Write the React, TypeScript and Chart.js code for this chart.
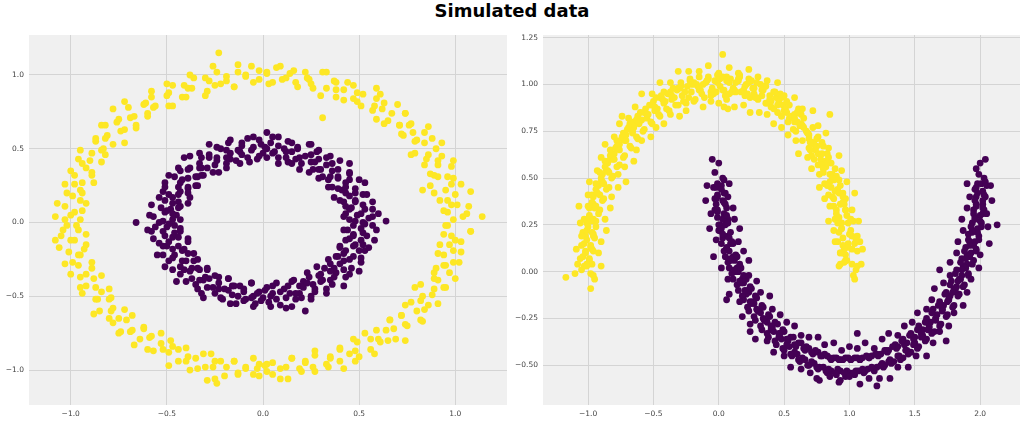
import React, { useEffect, useRef } from "react";
import { Chart, registerables } from "chart.js";

Chart.register(...registerables);

const TITLE = "Simulated data";

const circleXTicks = [-1, -0.5, 0, 0.5, 1];
const circleYTicks = [-1, -0.5, 0, 0.5, 1];
const moonXTicks = [-1, -0.5, 0, 0.5, 1, 1.5, 2];
const moonYTicks = [-0.5, -0.25, 0, 0.25, 0.5, 0.75, 1, 1.25];

const circleXRange = [-1.217, 1.269];
const circleYRange = [-1.237, 1.271];
const moonXRange = [-1.345, 2.305];
const moonYRange = [-0.712, 1.264];

// class 0 (yellow) outer ring of make_circles
const outerCircle: [number, number][] = [
  [1.04,0.04],[0.96,0.07],[1.07,0.11],[0.98,0.12],[0.92,0.15],[1.00,0.19],[0.95,0.22],[1.03,0.26],[0.87,0.25],[0.96,0.31],
  [0.89,0.32],[0.98,0.38],[0.91,0.39],[0.84,0.39],[0.93,0.45],[0.86,0.46],[0.93,0.54],[0.79,0.47],[0.84,0.54],[0.79,0.55],
  [0.84,0.61],[0.78,0.61],[0.72,0.60],[0.77,0.67],[0.71,0.66],[0.74,0.74],[0.65,0.69],[0.67,0.74],[0.59,0.70],[0.63,0.81],
  [0.58,0.79],[0.61,0.87],[0.51,0.79],[0.52,0.87],[0.47,0.84],[0.47,0.93],[0.42,0.90],[0.38,0.85],[0.38,0.95],[0.33,0.91],
  [0.33,1.02],[0.26,0.91],[0.24,0.97],[0.22,1.02],[0.17,0.95],[0.14,1.01],[0.10,0.97],[0.07,1.05],[0.03,0.94],[0.02,1.01],
  [-0.02,0.97],[-0.06,1.06],[-0.09,0.99],[-0.13,1.02],[-0.15,0.92],[-0.19,0.99],[-0.22,0.94],[-0.26,1.06],[-0.28,0.96],[-0.29,0.89],
  [-0.36,0.98],[-0.37,0.91],[-0.41,0.93],[-0.42,0.85],[-0.50,0.94],[-0.50,0.86],[-0.49,0.79],[-0.58,0.85],[-0.57,0.78],[-0.62,0.80],
  [-0.60,0.72],[-0.70,0.78],[-0.69,0.71],[-0.66,0.64],[-0.76,0.68],[-0.74,0.62],[-0.84,0.66],[-0.81,0.59],[-0.78,0.53],[-0.87,0.55],
  [-0.84,0.49],[-0.89,0.47],[-0.84,0.41],[-0.96,0.43],[-0.92,0.37],[-0.89,0.32],[-0.98,0.32],[-0.94,0.27],[-1.03,0.26],[-0.94,0.20],
  [-0.99,0.18],[-0.92,0.13],[-1.03,0.11],[-0.98,0.07],[-1.08,0.04],[-0.95,0.02],
  [-1.02,-0.02],[-0.96,-0.05],[-1.05,-0.09],[-0.98,-0.12],[-0.92,-0.15],[-1.01,-0.20],[-0.95,-0.22],[-1.03,-0.28],[-0.96,-0.29],[-0.89,-0.31],
  [-0.95,-0.37],[-0.88,-0.38],[-0.95,-0.44],[-0.87,-0.44],[-0.80,-0.45],[-0.87,-0.52],[-0.80,-0.52],[-0.85,-0.60],[-0.79,-0.60],[-0.72,-0.59],
  [-0.78,-0.68],[-0.71,-0.66],[-0.75,-0.75],[-0.68,-0.73],[-0.62,-0.71],[-0.64,-0.79],[-0.58,-0.77],[-0.60,-0.86],[-0.53,-0.82],[-0.48,-0.80],
  [-0.49,-0.88],[-0.44,-0.86],[-0.44,-0.94],[-0.39,-0.91],[-0.38,-1.00],[-0.31,-0.89],[-0.30,-0.98],[-0.25,-0.94],[-0.25,-1.06],[-0.19,-0.98],
  [-0.15,-0.94],[-0.13,-1.03],[-0.09,-0.98],[-0.05,-1.03],[-0.02,-0.96],
  [0.02,-1.01],[0.05,-0.95],[0.09,-1.06],[0.12,-0.98],[0.15,-0.92],[0.20,-1.01],[0.22,-0.95],[0.26,-0.98],[0.27,-0.90],[0.34,-0.98],
  [0.35,-0.91],[0.40,-0.94],[0.40,-0.86],[0.48,-0.94],[0.48,-0.87],[0.47,-0.79],[0.56,-0.86],[0.56,-0.79],[0.61,-0.81],[0.59,-0.73],
  [0.69,-0.79],[0.68,-0.72],[0.66,-0.66],[0.75,-0.70],[0.72,-0.63],[0.83,-0.67],[0.80,-0.60],[0.77,-0.54],[0.86,-0.56],[0.83,-0.50],
  [0.88,-0.49],[0.82,-0.42],[0.95,-0.44],[0.91,-0.39],[0.89,-0.34],[0.97,-0.34],[0.94,-0.29],[1.02,-0.27],[0.94,-0.22],[0.99,-0.19],
  [0.92,-0.15],[1.03,-0.13],[0.98,-0.09],[1.08,-0.06],[0.95,-0.02],
  [-0.23,1.15],[1.14,0.04],[0.83,0.22],[-0.29,-1.07],[-0.24,-1.09],[0.01,-0.97],[-0.03,-0.99],[-1.08,-0.12],[0.31,0.71],[-0.78,0.77]
];

const outerCircleB: [number, number][] = [
  [0.99,0.02],[1.06,0.06],[0.94,0.08],[1.01,0.12],[0.96,0.15],[1.08,0.21],[0.89,0.20],[0.98,0.26],[0.99,0.30],[0.91,0.31],
  [0.87,0.33],[0.99,0.42],[0.91,0.42],[0.85,0.43],[0.90,0.50],[0.77,0.46],[0.88,0.57],[0.80,0.56],[0.86,0.65],[0.73,0.59],
  [0.76,0.66],[0.71,0.66],[0.74,0.74],[0.63,0.67],[0.70,0.80],[0.62,0.77],[0.57,0.76],[0.59,0.84],[0.59,0.91],[0.49,0.82],
  [0.49,0.88],[0.42,0.83],[0.44,0.95],[0.38,0.90],[0.37,0.96],[0.30,0.86],[0.31,1.02],[0.25,0.94],[0.23,0.98],[0.18,0.92],
  [0.16,1.03],[0.12,0.98],[0.09,1.06],[0.05,0.95],[0.02,1.02],
  [-0.02,1.03],[-0.05,0.95],[-0.09,1.00],[-0.13,1.07],[-0.15,0.92],[-0.19,0.96],[-0.24,1.02],[-0.25,0.93],[-0.30,0.98],[-0.30,0.86],
  [-0.38,1.00],[-0.39,0.91],[-0.40,0.85],[-0.47,0.93],[-0.49,0.88],[-0.47,0.79],[-0.58,0.89],[-0.56,0.79],[-0.61,0.81],[-0.60,0.74],
  [-0.72,0.82],[-0.67,0.72],[-0.66,0.66],[-0.75,0.70],[-0.72,0.63],[-0.82,0.66],[-0.72,0.54],[-0.82,0.57],[-0.87,0.57],[-0.83,0.50],
  [-0.82,0.46],[-0.95,0.49],[-0.90,0.42],[-0.94,0.40],[-0.89,0.34],[-1.00,0.35],[-0.88,0.27],[-0.98,0.26],[-0.95,0.22],[-1.02,0.20],
  [-0.95,0.15],[-1.07,0.13],[-0.94,0.08],[-1.00,0.05],[-1.03,0.02],
  [-0.97,-0.02],[-1.04,-0.05],[-0.92,-0.08],[-1.00,-0.12],[-1.06,-0.17],[-0.93,-0.18],[-0.96,-0.22],[-0.99,-0.27],[-0.89,-0.27],[-1.00,-0.35],
  [-0.92,-0.35],[-0.84,-0.36],[-0.92,-0.43],[-0.94,-0.48],[-0.84,-0.47],[-0.86,-0.52],[-0.79,-0.51],[-0.88,-0.62],[-0.78,-0.58],[-0.80,-0.65],
  [-0.75,-0.65],[-0.68,-0.63],[-0.74,-0.74],[-0.69,-0.74],[-0.62,-0.72],[-0.67,-0.83],[-0.59,-0.78],[-0.53,-0.75],[-0.57,-0.87],[-0.52,-0.86],
  [-0.47,-0.84],[-0.49,-0.97],[-0.40,-0.85],[-0.40,-0.94],[-0.35,-0.92],[-0.34,-0.99],[-0.27,-0.89],[-0.26,-0.98],[-0.22,-0.94],[-0.20,-1.04],
  [-0.15,-0.94],[-0.13,-1.02],[-0.09,-0.99],[-0.05,-0.92],[-0.02,-1.04],
  [0.02,-0.96],[0.05,-1.03],[0.09,-0.99],[0.13,-1.06],[0.15,-0.92],[0.19,-0.99],[0.22,-0.94],[0.27,-1.01],[0.27,-0.87],[0.33,-0.96],
  [0.35,-0.92],[0.42,-0.99],[0.40,-0.85],[0.45,-0.89],[0.50,-0.91],[0.49,-0.81],[0.58,-0.89],[0.53,-0.75],[0.60,-0.79],[0.65,-0.80],
  [0.64,-0.73],[0.74,-0.80],[0.66,-0.66],[0.74,-0.69],[0.72,-0.63],[0.82,-0.66],[0.74,-0.56],[0.84,-0.59],[0.82,-0.53],[0.91,-0.55],
  [0.79,-0.44],[0.89,-0.45],[0.94,-0.44],[0.89,-0.38],[1.00,-0.38],[0.90,-0.31],[0.95,-0.29],[0.99,-0.27],[0.91,-0.21],[1.03,-0.20],
  [0.97,-0.15],[1.00,-0.12],[0.94,-0.08],[1.08,-0.06],[0.96,-0.02]
];

// class 1 (purple) inner ring of make_circles
const innerCircle: [number, number][] = [
  [0.52,0.00],[0.45,0.02],[0.57,0.04],[0.49,0.05],[0.43,0.06],[0.53,0.09],[0.46,0.10],[0.57,0.14],[0.48,0.14],[0.42,0.14],
  [0.52,0.19],[0.45,0.18],[0.37,0.17],[0.48,0.23],[0.41,0.22],[0.50,0.29],[0.43,0.27],[0.36,0.24],[0.45,0.33],[0.39,0.30],
  [0.34,0.29],[0.45,0.40],[0.36,0.35],[0.29,0.30],[0.36,0.40],[0.30,0.36],[0.35,0.45],[0.26,0.36],[0.29,0.43],[0.25,0.41],
  [0.28,0.48],[0.19,0.36],[0.22,0.45],[0.24,0.53],[0.17,0.43],[0.18,0.50],[0.13,0.41],[0.15,0.54],[0.12,0.48],[0.11,0.50],
  [0.08,0.44],[0.08,0.58],[0.05,0.47],[0.04,0.54],[0.02,0.50],
  [0.00,0.47],[-0.02,0.56],[-0.03,0.43],[-0.05,0.51],[-0.08,0.57],[-0.08,0.44],[-0.11,0.52],[-0.12,0.48],[-0.12,0.40],[-0.18,0.54],
  [-0.17,0.47],[-0.17,0.43],[-0.22,0.50],[-0.19,0.40],[-0.28,0.53],[-0.24,0.42],[-0.28,0.44],[-0.23,0.34],[-0.32,0.44],[-0.29,0.37],
  [-0.38,0.45],[-0.33,0.37],[-0.31,0.32],[-0.38,0.37],[-0.34,0.31],[-0.44,0.37],[-0.39,0.30],[-0.35,0.25],[-0.46,0.31],[-0.43,0.27],
  [-0.39,0.23],[-0.51,0.27],[-0.43,0.21],[-0.38,0.17],[-0.52,0.21],[-0.47,0.17],[-0.44,0.14],[-0.51,0.15],[-0.43,0.11],[-0.58,0.12],
  [-0.48,0.09],[-0.51,0.07],[-0.45,0.05],[-0.57,0.04],[-0.47,0.02],
  [-0.54,0.00],[-0.46,-0.02],[-0.50,-0.03],[-0.58,-0.06],[-0.43,-0.06],[-0.51,-0.09],[-0.47,-0.10],[-0.54,-0.14],[-0.39,-0.11],[-0.50,-0.16],
  [-0.44,-0.16],[-0.55,-0.22],[-0.41,-0.18],[-0.46,-0.22],[-0.49,-0.26],[-0.36,-0.21],[-0.42,-0.26],[-0.47,-0.32],[-0.36,-0.26],[-0.41,-0.32],
  [-0.37,-0.31],[-0.45,-0.40],[-0.33,-0.32],[-0.37,-0.38],[-0.29,-0.32],[-0.35,-0.42],[-0.31,-0.39],[-0.28,-0.38],[-0.32,-0.48],[-0.23,-0.37],
  [-0.26,-0.44],[-0.25,-0.48],[-0.18,-0.38],[-0.20,-0.45],[-0.21,-0.52],[-0.16,-0.43],[-0.16,-0.49],[-0.12,-0.43],[-0.14,-0.55],[-0.10,-0.47],
  [-0.09,-0.52],[-0.06,-0.41],[-0.05,-0.50],[-0.04,-0.55],[-0.02,-0.47],
  [0.00,-0.51],[0.02,-0.44],[0.04,-0.57],[0.05,-0.48],[0.07,-0.52],[0.07,-0.41],[0.12,-0.58],[0.11,-0.45],[0.14,-0.48],[0.17,-0.52],
  [0.15,-0.40],[0.19,-0.48],[0.19,-0.43],[0.25,-0.52],[0.21,-0.40],[0.27,-0.47],[0.26,-0.42],[0.23,-0.34],[0.33,-0.45],[0.31,-0.39],
  [0.30,-0.35],[0.35,-0.39],[0.42,-0.43],[0.32,-0.31],[0.38,-0.34],[0.37,-0.31],[0.45,-0.35],[0.34,-0.25],[0.46,-0.31],[0.42,-0.26],
  [0.39,-0.23],[0.51,-0.27],[0.47,-0.23],[0.43,-0.19],[0.40,-0.16],[0.53,-0.19],[0.48,-0.15],[0.52,-0.15],[0.45,-0.11],[0.58,-0.12],
  [0.47,-0.08],[0.52,-0.07],[0.44,-0.05],[0.51,-0.04],[0.57,-0.02],
  [-0.66,0.00],[0.64,0.01],[0.02,0.61],[0.22,-0.60],[-0.60,-0.05],[0.60,0.06]
];

const innerCircleB: [number, number][] = [
  [0.48,0.01],[0.55,0.03],[0.42,0.04],[0.51,0.06],[0.57,0.09],[0.45,0.09],[0.52,0.12],[0.43,0.11],[0.48,0.15],[0.54,0.19],
  [0.40,0.15],[0.48,0.20],[0.43,0.20],[0.53,0.27],[0.43,0.24],[0.39,0.23],[0.45,0.29],[0.34,0.24],[0.45,0.34],[0.39,0.31],
  [0.35,0.31],[0.39,0.36],[0.31,0.31],[0.40,0.42],[0.33,0.39],[0.29,0.36],[0.33,0.44],[0.24,0.34],[0.27,0.41],[0.29,0.49],
  [0.25,0.46],[0.20,0.40],[0.25,0.53],[0.19,0.44],[0.15,0.40],[0.18,0.51],[0.15,0.48],[0.12,0.44],[0.13,0.55],[0.08,0.40],
  [0.08,0.52],[0.06,0.48],[0.05,0.58],[0.02,0.44],[0.01,0.51],
  [-0.01,0.53],[-0.02,0.45],[-0.05,0.58],[-0.06,0.49],[-0.07,0.41],[-0.11,0.54],[-0.11,0.46],[-0.13,0.49],[-0.17,0.56],[-0.14,0.42],
  [-0.19,0.49],[-0.19,0.44],[-0.24,0.51],[-0.19,0.37],[-0.24,0.44],[-0.28,0.46],[-0.25,0.39],[-0.33,0.47],[-0.26,0.34],[-0.33,0.40],
  [-0.32,0.37],[-0.41,0.44],[-0.32,0.32],[-0.39,0.36],[-0.35,0.31],[-0.43,0.35],[-0.34,0.25],[-0.42,0.29],[-0.49,0.32],[-0.39,0.24],
  [-0.44,0.24],[-0.39,0.20],[-0.51,0.24],[-0.44,0.19],[-0.49,0.19],[-0.39,0.13],[-0.54,0.17],[-0.47,0.13],[-0.44,0.10],[-0.53,0.10],
  [-0.50,0.08],[-0.47,0.06],[-0.59,0.05],[-0.43,0.02],[-0.52,0.01],
  [-0.49,-0.01],[-0.56,-0.03],[-0.43,-0.04],[-0.52,-0.06],[-0.46,-0.07],[-0.57,-0.11],[-0.44,-0.10],[-0.49,-0.13],[-0.52,-0.16],[-0.39,-0.13],
  [-0.47,-0.18],[-0.52,-0.22],[-0.42,-0.19],[-0.47,-0.24],[-0.39,-0.21],[-0.51,-0.30],[-0.40,-0.26],[-0.43,-0.30],[-0.34,-0.25],[-0.43,-0.35],
  [-0.38,-0.33],[-0.34,-0.31],[-0.40,-0.40],[-0.29,-0.31],[-0.33,-0.39],[-0.30,-0.37],[-0.34,-0.45],[-0.25,-0.36],[-0.29,-0.44],[-0.31,-0.51],
  [-0.23,-0.41],[-0.23,-0.45],[-0.18,-0.38],[-0.22,-0.51],[-0.18,-0.46],[-0.15,-0.43],[-0.17,-0.55],[-0.13,-0.50],[-0.10,-0.45],[-0.10,-0.53],
  [-0.06,-0.41],[-0.06,-0.51],[-0.05,-0.57],[-0.03,-0.48],[-0.01,-0.53],
  [0.01,-0.46],[0.03,-0.54],[0.04,-0.50],[0.05,-0.43],[0.09,-0.56],[0.09,-0.47],[0.12,-0.51],[0.15,-0.57],[0.13,-0.43],[0.17,-0.48],
  [0.20,-0.51],[0.16,-0.39],[0.21,-0.44],[0.25,-0.50],[0.23,-0.41],[0.27,-0.45],[0.24,-0.37],[0.33,-0.48],[0.30,-0.40],[0.29,-0.36],
  [0.36,-0.42],[0.28,-0.30],[0.37,-0.37],[0.35,-0.33],[0.43,-0.37],[0.35,-0.28],[0.42,-0.32],[0.40,-0.28],[0.50,-0.33],[0.38,-0.23],
  [0.45,-0.25],[0.42,-0.21],[0.51,-0.24],[0.40,-0.17],[0.50,-0.19],[0.47,-0.16],[0.55,-0.17],[0.43,-0.12],[0.51,-0.12],[0.47,-0.09],
  [0.54,-0.09],[0.42,-0.05],[0.59,-0.05],[0.47,-0.02],[0.53,-0.01]
];

// class 0 (yellow) upper moon
const upperMoon: [number, number][] = [
  [1.03,-0.02],[0.96,0.05],[1.05,0.01],[0.97,0.09],[0.93,0.04],[1.02,0.12],[1.04,0.15],[0.98,0.06],[0.95,0.18],[1.06,0.11],
  [1.01,0.22],[0.91,0.16],[0.99,0.15],[0.94,0.26],[1.03,0.27],[0.92,0.21],[0.97,0.33],[0.89,0.28],[0.99,0.26],[0.93,0.36],
  [0.88,0.35],[0.97,0.39],[0.95,0.42],[0.90,0.33],[0.86,0.45],[0.95,0.40],[0.92,0.49],[0.84,0.41],[0.87,0.52],[0.91,0.44],
  [0.81,0.47],[0.89,0.55],[0.86,0.58],[0.80,0.53],[0.78,0.60],[0.85,0.52],[0.83,0.63],[0.76,0.57],[0.74,0.65],[0.82,0.59],
  [0.79,0.69],[0.71,0.62],[0.76,0.72],[0.70,0.65],[0.68,0.74],[0.75,0.67],[0.72,0.77],[0.64,0.70],[0.69,0.71],[0.63,0.79],
  [0.60,0.80],[0.68,0.74],[0.63,0.84],[0.57,0.76],[0.54,0.82],[0.61,0.87],[0.58,0.80],[0.51,0.86],[0.49,0.89],[0.56,0.83],
  [0.52,0.91],[0.45,0.85],[0.44,0.93],[0.50,0.86],[0.40,0.88],[0.47,0.95],[0.43,0.96],[0.37,0.90],[0.34,0.97],[0.40,0.91],
  [0.36,0.99],[0.30,0.92],[0.27,0.98],[0.33,0.94],[0.29,1.01],[0.24,0.93],[0.21,1.00],[0.27,0.95],[0.23,1.03],[0.17,0.96],
  [0.15,1.02],[0.20,0.94],[0.12,0.97],[0.16,1.05],[0.08,1.01],[0.13,0.96],[0.05,0.94],[0.09,1.03],[0.01,0.99],[0.06,1.04],
  [-0.03,1.02],[0.03,0.97],[-0.06,0.96],[-0.01,1.05],[-0.10,1.01],[-0.04,0.95],[-0.08,1.03],[-0.14,0.97],[-0.17,1.00],[-0.11,0.93],
  [-0.15,1.04],[-0.21,0.96],[-0.24,0.99],[-0.18,0.92],[-0.22,1.02],[-0.28,0.94],[-0.31,0.98],[-0.25,0.90],[-0.29,1.01],[-0.34,0.93],
  [-0.37,0.96],[-0.31,0.89],[-0.35,0.98],[-0.41,0.91],[-0.44,0.94],[-0.38,0.86],[-0.42,0.96],[-0.47,0.87],[-0.50,0.91],[-0.45,0.83],
  [-0.48,0.93],[-0.54,0.84],[-0.56,0.87],[-0.51,0.79],[-0.53,0.89],[-0.59,0.81],[-0.62,0.83],[-0.57,0.76],[-0.60,0.85],[-0.65,0.77],
  [-0.68,0.79],[-0.62,0.71],[-0.65,0.80],[-0.71,0.73],[-0.73,0.74],[-0.67,0.66],[-0.70,0.76],[-0.76,0.68],[-0.78,0.70],[-0.72,0.62],
  [-0.74,0.71],[-0.80,0.63],[-0.83,0.65],[-0.76,0.57],[-0.79,0.66],[-0.85,0.58],[-0.87,0.59],[-0.81,0.51],[-0.83,0.60],[-0.89,0.52],
  [-0.91,0.53],[-0.84,0.45],[-0.86,0.54],[-0.92,0.46],[-0.94,0.47],[-0.88,0.39],[-0.90,0.48],[-0.96,0.40],[-0.97,0.41],[-0.91,0.33],
  [-0.93,0.42],[-0.99,0.34],[-1.00,0.35],[-0.94,0.27],[-0.95,0.34],[-1.01,0.26],[-1.03,0.28],[-0.96,0.20],[-0.97,0.27],[-1.02,0.19],
  [-1.04,0.21],[-0.98,0.13],[-0.96,0.19],[-1.02,0.11],[-1.05,0.14],[-0.99,0.06],[-0.97,0.12],[-1.03,0.03],[-1.06,0.07],[-0.98,-0.01],
  [-1.01,0.04],[-0.95,-0.04],
  [0.03,1.16],[0.04,0.88],[0.07,0.87],[-1.17,-0.03],[-1.10,-0.01],[-0.98,-0.09],[-0.71,0.48],[-0.74,0.83],[0.85,0.84],[0.95,0.14]
];

const upperMoonB: [number, number][] = [
  [0.97,0.06],[1.04,-0.04],[1.06,0.03],[0.95,0.10],[0.99,0.13],[1.02,0.04],[0.93,0.10],[1.08,0.16],[1.02,0.19],[0.96,0.12],
  [0.94,0.23],[1.05,0.17],[1.00,0.20],[0.91,0.26],[0.98,0.30],[0.94,0.23],[0.90,0.31],[1.01,0.28],[0.96,0.36],[0.92,0.29],
  [0.97,0.33],[0.88,0.39],[0.89,0.43],[0.95,0.37],[0.93,0.46],[0.87,0.40],[0.85,0.48],[0.92,0.42],[0.90,0.51],[0.83,0.46],
  [0.88,0.49],[0.82,0.56],[0.79,0.57],[0.87,0.50],[0.84,0.61],[0.80,0.55],[0.76,0.63],[0.83,0.58],[0.80,0.67],[0.73,0.60],
  [0.72,0.69],[0.79,0.63],[0.75,0.71],[0.69,0.66],[0.67,0.75],[0.73,0.68],[0.70,0.69],[0.65,0.77],[0.62,0.78],[0.69,0.73],
  [0.65,0.82],[0.59,0.75],[0.58,0.84],[0.64,0.78],[0.60,0.85],[0.53,0.80],[0.51,0.87],[0.58,0.82],[0.54,0.89],[0.48,0.83],
  [0.46,0.91],[0.52,0.85],[0.48,0.93],[0.42,0.87],[0.39,0.94],[0.45,0.89],[0.42,0.96],[0.36,0.90],[0.33,0.97],[0.39,0.92],
  [0.35,0.99],[0.29,0.93],[0.26,0.98],[0.32,1.00],[0.28,0.93],[0.23,1.01],[0.20,0.99],[0.25,1.02],[0.22,0.95],[0.16,1.04],
  [0.13,1.01],[0.19,0.97],[0.10,0.96],[0.15,1.03],[0.06,1.02],[0.11,0.98],[0.08,0.95],[0.03,1.04],[-0.01,1.01],[0.04,0.97],
  [0.01,1.03],[-0.05,0.98],[-0.02,0.96],[-0.08,1.04],[-0.12,1.00],[-0.06,0.94],[-0.09,1.02],[-0.15,0.97],[-0.19,1.01],[-0.13,0.95],
  [-0.16,0.99],[-0.22,1.03],[-0.26,0.96],[-0.20,1.00],[-0.23,0.93],[-0.29,0.99],[-0.32,0.97],[-0.27,0.91],[-0.30,0.98],[-0.36,0.92],
  [-0.39,0.95],[-0.33,0.89],[-0.36,0.94],[-0.42,0.90],[-0.45,0.93],[-0.40,0.87],[-0.43,0.92],[-0.49,0.86],[-0.51,0.89],[-0.46,0.84],
  [-0.49,0.88],[-0.55,0.82],[-0.57,0.85],[-0.52,0.80],[-0.55,0.84],[-0.61,0.79],[-0.63,0.81],[-0.58,0.75],[-0.61,0.80],[-0.66,0.74],
  [-0.69,0.77],[-0.63,0.72],[-0.66,0.75],[-0.72,0.70],[-0.74,0.72],[-0.68,0.67],[-0.71,0.70],[-0.77,0.66],[-0.78,0.67],[-0.73,0.61],
  [-0.76,0.65],[-0.81,0.60],[-0.83,0.62],[-0.78,0.56],[-0.80,0.60],[-0.85,0.54],[-0.87,0.56],[-0.82,0.50],[-0.84,0.53],[-0.89,0.48],
  [-0.90,0.50],[-0.86,0.44],[-0.88,0.47],[-0.93,0.42],[-0.94,0.44],[-0.89,0.38],[-0.91,0.41],[-0.96,0.36],[-0.97,0.37],[-0.92,0.31],
  [-0.94,0.35],[-0.99,0.29],[-0.99,0.30],[-0.94,0.24],[-0.96,0.28],[-1.01,0.22],[-1.00,0.24],[-0.95,0.18],[-0.97,0.21],[-1.03,0.15],
  [-1.01,0.17],[-0.96,0.11],[-0.98,0.14],[-1.04,0.08],[-1.02,0.10],[-0.97,0.04],[-0.99,0.07],[-1.05,0.01],[-1.01,0.03],[-0.96,-0.02]
];

const upperMoonC: [number, number][] = [
  [1.09,0.04],[0.92,0.03],[1.10,0.12],[0.93,0.10],[1.06,0.19],[0.89,0.16],[1.07,0.27],[0.88,0.22],[1.02,0.33],[0.84,0.27],
  [1.04,0.42],[0.85,0.35],[0.98,0.48],[0.81,0.39],[0.94,0.54],[0.77,0.45],[0.92,0.62],[0.77,0.52],[0.84,0.66],[0.71,0.55],
  [0.82,0.74],[0.68,0.61],[0.76,0.78],[0.61,0.63],[0.72,0.86],[0.59,0.70],[0.64,0.87],[0.53,0.73],[0.58,0.93],[0.48,0.77],
  [0.50,0.94],[0.42,0.79],[0.45,1.01],[0.37,0.84],[0.37,1.02],[0.31,0.85],[0.30,1.04],[0.24,0.85],[0.23,1.08],[0.19,0.89],
  [0.15,1.06],[0.12,0.88],[0.08,1.09],[0.06,0.92],[0.00,1.06],[0.00,0.90],[-0.08,1.10],[-0.06,0.91],[-0.15,1.07],[-0.12,0.88],
  [-0.23,1.07],[-0.19,0.91],[-0.31,1.07],[-0.25,0.86],[-0.37,1.01],[-0.30,0.83],[-0.45,1.01],[-0.37,0.84],[-0.51,0.95],[-0.42,0.79],
  [-0.59,0.95],[-0.48,0.77],[-0.64,0.88],[-0.52,0.72],[-0.69,0.82],[-0.59,0.70],[-0.76,0.79],[-0.63,0.65],[-0.80,0.72],[-0.65,0.59],
  [-0.87,0.68],[-0.72,0.56],[-0.90,0.61],[-0.77,0.52],[-0.93,0.54],[-0.77,0.45],[-0.99,0.48],[-0.82,0.40],[-1.00,0.41],[-0.83,0.34],
  [-1.07,0.35],[-0.87,0.28],[-1.06,0.26],[-0.86,0.22],[-1.05,0.19],[-0.90,0.16],[-1.09,0.12],[-0.92,0.10],[-1.08,0.04],[-0.90,0.03]
];

// class 1 (purple) lower moon
const lowerMoon: [number, number][] = [
  [0.02,0.46],[-0.03,0.53],[-0.01,0.41],[0.04,0.49],[0.03,0.38],[-0.04,0.45],[-0.02,0.36],[0.05,0.42],[0.04,0.31],[-0.02,0.39],
  [-0.01,0.29],[0.06,0.34],[0.05,0.25],[-0.01,0.32],[0.00,0.22],[0.07,0.28],[0.07,0.19],[0.01,0.25],[0.02,0.15],[0.09,0.21],
  [0.08,0.11],[0.03,0.18],[0.05,0.08],[0.11,0.15],[0.12,0.06],[0.06,0.12],[0.08,0.02],[0.14,0.08],[0.15,0.00],[0.09,0.06],
  [0.11,-0.04],[0.17,0.02],[0.19,-0.06],[0.13,0.00],[0.15,-0.10],[0.21,-0.04],[0.23,-0.11],[0.17,-0.06],[0.19,-0.15],[0.25,-0.09],
  [0.27,-0.17],[0.21,-0.12],[0.23,-0.21],[0.29,-0.14],[0.32,-0.22],[0.25,-0.17],[0.28,-0.26],[0.34,-0.19],[0.37,-0.27],[0.30,-0.21],
  [0.33,-0.31],[0.39,-0.24],[0.42,-0.32],[0.35,-0.26],[0.38,-0.35],[0.45,-0.28],[0.48,-0.36],[0.41,-0.30],[0.44,-0.39],[0.50,-0.32],
  [0.54,-0.40],[0.47,-0.33],[0.50,-0.42],[0.57,-0.35],[0.60,-0.44],[0.53,-0.37],[0.56,-0.45],[0.63,-0.38],[0.66,-0.47],[0.59,-0.40],
  [0.62,-0.48],[0.69,-0.41],[0.73,-0.49],[0.66,-0.42],[0.69,-0.50],[0.76,-0.43],[0.80,-0.51],[0.72,-0.44],[0.76,-0.52],[0.83,-0.45],
  [0.86,-0.53],[0.79,-0.45],[0.83,-0.54],[0.90,-0.46],[0.93,-0.53],[0.86,-0.47],[0.90,-0.55],[0.97,-0.46],[1.00,-0.54],[0.93,-0.47],
  [0.97,-0.56],[1.04,-0.46],[1.07,-0.53],[1.01,-0.47],[1.04,-0.55],[1.10,-0.46],[1.14,-0.52],[1.08,-0.47],[1.11,-0.54],[1.17,-0.45],
  [1.21,-0.51],[1.15,-0.46],[1.18,-0.52],[1.24,-0.44],[1.27,-0.50],[1.21,-0.44],[1.25,-0.49],[1.30,-0.42],[1.34,-0.48],[1.28,-0.42],
  [1.31,-0.47],[1.37,-0.40],[1.41,-0.46],[1.35,-0.39],[1.38,-0.45],[1.44,-0.38],[1.47,-0.43],[1.41,-0.36],[1.44,-0.42],[1.50,-0.35],
  [1.53,-0.40],[1.47,-0.33],[1.50,-0.38],[1.56,-0.31],[1.59,-0.36],[1.53,-0.29],[1.56,-0.34],[1.62,-0.27],[1.65,-0.32],[1.59,-0.25],
  [1.61,-0.30],[1.67,-0.23],[1.70,-0.28],[1.64,-0.20],[1.66,-0.25],[1.72,-0.18],[1.75,-0.23],[1.69,-0.16],[1.71,-0.20],[1.77,-0.13],
  [1.80,-0.18],[1.74,-0.11],[1.76,-0.15],[1.82,-0.08],[1.84,-0.12],[1.78,-0.05],[1.80,-0.09],[1.86,-0.02],[1.88,-0.07],[1.82,0.01],
  [1.84,-0.04],[1.90,0.04],[1.91,-0.01],[1.86,0.07],[1.87,0.03],[1.93,0.10],[1.95,0.06],[1.89,0.13],[1.90,0.09],[1.96,0.16],
  [1.97,0.12],[1.91,0.20],[1.92,0.16],[1.98,0.23],[1.99,0.19],[1.94,0.26],[1.94,0.22],[2.00,0.30],[2.01,0.26],[1.95,0.33],
  [1.96,0.29],[2.02,0.36],[2.03,0.33],[1.97,0.40],[1.97,0.36],[2.02,0.43],[2.04,0.40],[1.98,0.47],[1.96,0.44],[2.03,0.50],
  [2.01,0.47],[1.97,0.55],
  [-0.05,0.60],[0.00,0.58],[2.04,0.60],[2.00,0.58],[2.13,0.25],[1.06,-0.33],[1.21,-0.61],[0.06,-0.15],[1.74,-0.37],[1.69,0.01],
  [0.24,-0.32],[0.75,-0.57],[0.93,-0.58]
];

const lowerMoonB: [number, number][] = [
  [0.03,0.50],[-0.02,0.45],[-0.01,0.47],[0.04,0.42],[0.02,0.44],[-0.03,0.39],[0.05,0.36],[-0.01,0.40],[-0.03,0.33],[0.04,0.37],
  [0.03,0.28],[-0.01,0.33],[0.06,0.30],[0.00,0.25],[0.01,0.22],[0.07,0.26],[0.08,0.18],[0.02,0.23],[0.03,0.20],[0.09,0.15],
  [0.10,0.16],[0.04,0.11],[0.06,0.13],[0.11,0.08],[0.13,0.09],[0.07,0.05],[0.09,0.07],[0.14,0.02],[0.16,0.04],[0.10,-0.01],
  [0.12,0.01],[0.18,-0.04],[0.19,-0.02],[0.14,-0.07],[0.16,-0.05],[0.22,-0.10],[0.24,-0.08],[0.18,-0.13],[0.20,-0.10],[0.26,-0.16],
  [0.28,-0.13],[0.22,-0.19],[0.24,-0.16],[0.30,-0.21],[0.33,-0.18],[0.27,-0.24],[0.29,-0.20],[0.35,-0.26],[0.38,-0.23],[0.32,-0.29],
  [0.34,-0.25],[0.40,-0.31],[0.43,-0.27],[0.37,-0.33],[0.40,-0.29],[0.46,-0.35],[0.49,-0.31],[0.43,-0.37],[0.46,-0.33],[0.52,-0.39],
  [0.55,-0.35],[0.49,-0.41],[0.52,-0.36],[0.58,-0.43],[0.61,-0.38],[0.55,-0.44],[0.58,-0.39],[0.64,-0.46],[0.67,-0.40],[0.61,-0.47],
  [0.65,-0.41],[0.71,-0.48],[0.74,-0.42],[0.68,-0.50],[0.71,-0.43],[0.77,-0.51],[0.81,-0.44],[0.75,-0.51],[0.78,-0.45],[0.84,-0.52],
  [0.88,-0.46],[0.82,-0.53],[0.85,-0.46],[0.91,-0.52],[0.95,-0.47],[0.89,-0.54],[0.92,-0.47],[0.98,-0.53],[1.01,-0.47],[0.96,-0.54],
  [0.99,-0.46],[1.05,-0.53],[1.08,-0.47],[1.03,-0.54],[1.06,-0.46],[1.12,-0.53],[1.15,-0.46],[1.10,-0.52],[1.13,-0.45],[1.19,-0.53],
  [1.22,-0.45],[1.17,-0.51],[1.20,-0.44],[1.26,-0.51],[1.29,-0.43],[1.24,-0.50],[1.27,-0.42],[1.32,-0.49],[1.36,-0.41],[1.30,-0.48],
  [1.33,-0.40],[1.39,-0.47],[1.42,-0.39],[1.37,-0.45],[1.40,-0.37],[1.45,-0.44],[1.49,-0.36],[1.43,-0.42],[1.46,-0.34],[1.52,-0.41],
  [1.55,-0.33],[1.49,-0.39],[1.52,-0.31],[1.58,-0.37],[1.61,-0.29],[1.55,-0.35],[1.58,-0.27],[1.63,-0.33],[1.66,-0.25],[1.60,-0.31],
  [1.63,-0.22],[1.69,-0.29],[1.71,-0.20],[1.66,-0.26],[1.68,-0.18],[1.74,-0.24],[1.76,-0.15],[1.71,-0.21],[1.73,-0.12],[1.79,-0.19],
  [1.81,-0.10],[1.75,-0.16],[1.77,-0.07],[1.83,-0.13],[1.85,-0.04],[1.79,-0.11],[1.81,-0.01],[1.87,-0.08],[1.89,0.02],[1.83,-0.05],
  [1.85,0.05],[1.91,-0.02],[1.92,0.08],[1.86,0.01],[1.88,0.11],[1.94,0.04],[1.95,0.14],[1.89,0.07],[1.91,0.17],[1.97,0.11],
  [1.98,0.21],[1.92,0.14],[1.93,0.24],[1.99,0.17],[2.00,0.27],[1.94,0.21],[1.95,0.31],[2.01,0.24],[2.02,0.34],[1.96,0.28],
  [1.96,0.38],[2.02,0.31],[2.03,0.41],[1.97,0.35],[1.97,0.45],[2.02,0.38],[2.04,0.48],[1.98,0.42],[1.99,0.52],[2.05,0.46]
];

const lowerMoonC: [number, number][] = [
  [-0.09,0.46],[0.08,0.47],[-0.10,0.38],[0.07,0.40],[-0.06,0.31],[0.11,0.34],[-0.07,0.23],[0.12,0.28],[-0.02,0.17],[0.16,0.23],
  [-0.04,0.08],[0.15,0.16],[0.02,0.02],[0.19,0.11],[0.07,-0.04],[0.23,0.06],[0.08,-0.12],[0.23,-0.02],[0.16,-0.16],[0.29,-0.05],
  [0.18,-0.24],[0.32,-0.11],[0.24,-0.28],[0.39,-0.13],[0.28,-0.36],[0.41,-0.20],[0.37,-0.37],[0.47,-0.23],[0.42,-0.43],[0.52,-0.27],
  [0.50,-0.45],[0.58,-0.29],[0.55,-0.51],[0.63,-0.34],[0.63,-0.52],[0.69,-0.35],[0.70,-0.54],[0.76,-0.35],[0.77,-0.58],[0.81,-0.39],
  [0.85,-0.56],[0.88,-0.38],[0.92,-0.59],[0.94,-0.42],[1.00,-0.56],[1.00,-0.40],[1.08,-0.60],[1.06,-0.41],[1.15,-0.57],[1.12,-0.38],
  [1.23,-0.57],[1.19,-0.41],[1.31,-0.57],[1.25,-0.36],[1.37,-0.51],[1.30,-0.33],[1.45,-0.51],[1.37,-0.34],[1.51,-0.45],[1.42,-0.29],
  [1.59,-0.45],[1.48,-0.27],[1.64,-0.38],[1.52,-0.22],[1.69,-0.32],[1.59,-0.20],[1.76,-0.29],[1.63,-0.15],[1.80,-0.22],[1.65,-0.09],
  [1.87,-0.18],[1.72,-0.06],[1.90,-0.11],[1.77,-0.02],[1.93,-0.04],[1.77,0.05],[1.99,0.02],[1.82,0.10],[2.00,0.09],[1.83,0.16],
  [2.07,0.15],[1.87,0.22],[2.06,0.24],[1.86,0.28],[2.05,0.31],[1.90,0.34],[2.09,0.38],[1.92,0.40],[2.08,0.46],[1.90,0.47]
];

const YELLOW = "#fde725";
const PURPLE = "#440154";

const fmt = (digits: number) => (v: any) => {
  const n = Number(v);
  const s = Math.abs(n).toFixed(digits);
  return n < -1e-9 ? "\u2212" + s : s;
};

const plotBg = {
  id: "plotBg",
  beforeDraw(chart: any) {
    const { ctx, chartArea: a } = chart;
    ctx.save();
    ctx.fillStyle = "#f0f0f0";
    ctx.fillRect(a.left, a.top, a.right - a.left, a.bottom - a.top);
    ctx.restore();
  },
};

type PanelCfg = {
  xTicks: number[];
  yTicks: number[];
  xRange: number[];
  yRange: number[];
  xDigits: number;
  yDigits: number;
  yAxisWidth: number;
  padRight: number;
  series: { data: [number, number][]; color: string }[];
};

function Panel({ cfg, left }: { cfg: PanelCfg; left: number }) {
  const ref = useRef<HTMLCanvasElement | null>(null);
  useEffect(() => {
    if (!ref.current) return;
    const tickFont = { family: "DejaVu Sans", size: 7.5 };
    const chart = new Chart(ref.current, {
      type: "scatter",
      data: {
        datasets: cfg.series.map((s) => ({
          data: s.data.map(([x, y]) => ({ x, y })),
          backgroundColor: s.color,
          borderWidth: 0,
          pointRadius: 3.4,
          pointHoverRadius: 3.4,
        })),
      },
      options: {
        animation: false,
        responsive: false,
        maintainAspectRatio: false,
        events: [],
        layout: { padding: { left: 0, right: cfg.padRight, top: 35, bottom: 0 } },
        plugins: { legend: { display: false }, tooltip: { enabled: false }, title: { display: false } },
        scales: {
          x: {
            type: "linear",
            min: cfg.xRange[0],
            max: cfg.xRange[1],
            afterBuildTicks: (axis: any) => {
              axis.ticks = cfg.xTicks.map((v) => ({ value: v }));
            },
            afterFit: (axis: any) => {
              axis.height = 18;
            },
            grid: { color: "#d4d4d4", lineWidth: 1, drawTicks: false },
            border: { display: false },
            ticks: { callback: fmt(cfg.xDigits), font: tickFont, color: "#444", padding: 5, maxRotation: 0, autoSkip: false },
          },
          y: {
            type: "linear",
            min: cfg.yRange[0],
            max: cfg.yRange[1],
            afterBuildTicks: (axis: any) => {
              axis.ticks = cfg.yTicks.map((v) => ({ value: v }));
            },
            afterFit: (axis: any) => {
              axis.width = cfg.yAxisWidth;
            },
            grid: { color: "#d4d4d4", lineWidth: 1, drawTicks: false },
            border: { display: false },
            ticks: { callback: fmt(cfg.yDigits), font: tickFont, color: "#444", padding: 5, autoSkip: false },
          },
        },
      },
      plugins: [plotBg],
    } as any);
    return () => chart.destroy();
  }, [cfg]);
  return (
    <canvas
      ref={ref}
      width={512}
      height={423}
      style={{ position: "absolute", left, top: 0, width: 512, height: 423 }}
    />
  );
}

const circlesCfg: PanelCfg = {
  xTicks: circleXTicks,
  yTicks: circleYTicks,
  xRange: circleXRange,
  yRange: circleYRange,
  xDigits: 1,
  yDigits: 1,
  yAxisWidth: 29,
  padRight: 5,
  series: [
    { data: innerCircle.concat(innerCircleB), color: PURPLE },
    { data: outerCircle.concat(outerCircleB), color: YELLOW },
  ],
};

const moonsCfg: PanelCfg = {
  xTicks: moonXTicks,
  yTicks: moonYTicks,
  xRange: moonXRange,
  yRange: moonYRange,
  xDigits: 1,
  yDigits: 2,
  yAxisWidth: 31,
  padRight: 4,
  series: [
    { data: lowerMoon.concat(lowerMoonB, lowerMoonC), color: PURPLE },
    { data: upperMoon.concat(upperMoonB, upperMoonC), color: YELLOW },
  ],
};

export default function App() {
  return (
    <div style={{ position: "absolute", left: 0, top: 0, width: 1024, height: 423, background: "#ffffff", overflow: "hidden" }}>
      <div
        style={{
          position: "absolute",
          left: 0,
          top: 2,
          width: 1024,
          textAlign: "center",
          fontFamily: "DejaVu Sans",
          fontWeight: "bold",
          fontSize: 18,
          lineHeight: "18px",
          color: "#000",
        }}
      >
        {TITLE}
      </div>
      <Panel cfg={circlesCfg} left={0} />
      <Panel cfg={moonsCfg} left={512} />
    </div>
  );
}
